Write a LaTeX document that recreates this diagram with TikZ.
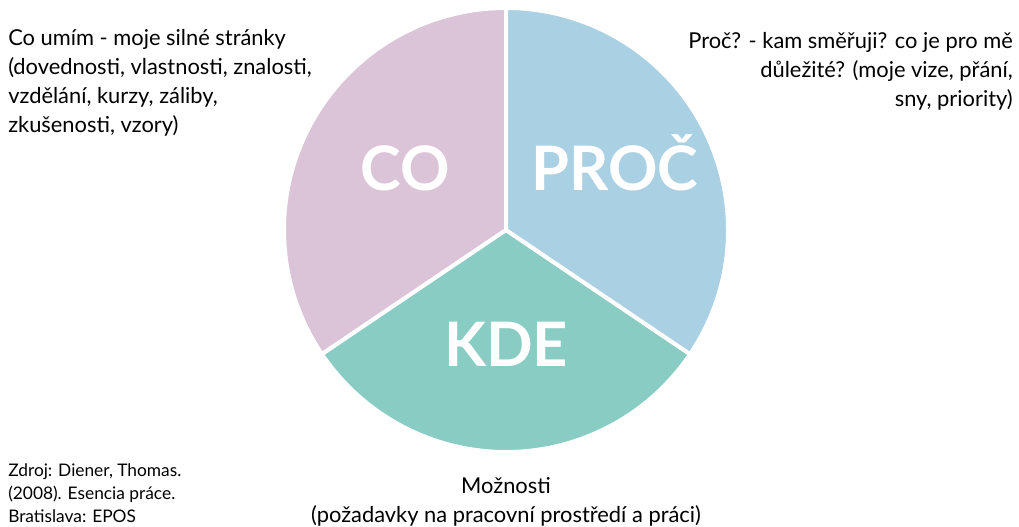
\documentclass[tikz,border=0pt]{standalone}
\usepackage{fontspec}
\setmainfont{Lato}
\definecolor{coPink}{HTML}{DBC4D7}
\definecolor{procBlue}{HTML}{AAD0E3}
\definecolor{kdeTeal}{HTML}{88CCC3}

\begin{document}
\begin{tikzpicture}[x=0.75pt,y=0.75pt,
		sector/.style={draw=white, line width=3pt, line join=round},
		big/.style={text=white, inner sep=0pt, font=\fontsize{46}{50}\selectfont\bfseries},
		note/.style={inner sep=0pt, font=\fontsize{16.4}{21.75}\selectfont},
		src/.style={inner sep=0pt, align=left, font=\fontsize{13}{17.3}\selectfont}]
		\useasboundingbox (0,0) rectangle (1019,526);
		\coordinate (mid) at (506,296);
		% three parts of the circle
		\filldraw[sector, fill=coPink] (mid) -- ++(90:222) arc[start angle=90, end angle=214, radius=222] -- cycle;
		\filldraw[sector, fill=kdeTeal] (mid) -- ++(214:222) arc[start angle=214, end angle=326, radius=222] -- cycle;
		\filldraw[sector, fill=procBlue] (mid) -- ++(326:222) arc[start angle=-34, end angle=90, radius=222] -- cycle;
		\node[big, anchor=base] (co) at (405,336) {CO};
		\node[big, anchor=base] (proc) at (615,336) {PROČ};
		\node[big, anchor=base] (kde) at (506,160) {KDE};
		% texts round the circle
		\node[note, anchor=north west, align=left] (coText) at (8,497)
			{Co umím - moje silné stránky\\(dovednosti, vlastnosti, znalosti,\\vzdělání, kurzy, záliby,\\zkušenosti, vzory)};
		\node[note, anchor=north east, align=right] (procText) at (1013,494)
			{Proč? - kam směřuji? co je pro mě\\důležité? (moje vize, přání,\\sny, priority)};
		\node[note, anchor=north, align=center] (kdeText) at (506,49)
			{Možnosti\\(požadavky na pracovní prostředí a práci)};
		\node[src, anchor=north west] (source) at (8,63)
			{Zdroj: Diener, Thomas.\\(2008). Esencia práce.\\Bratislava: EPOS};
	\end{tikzpicture}
\end{document}
